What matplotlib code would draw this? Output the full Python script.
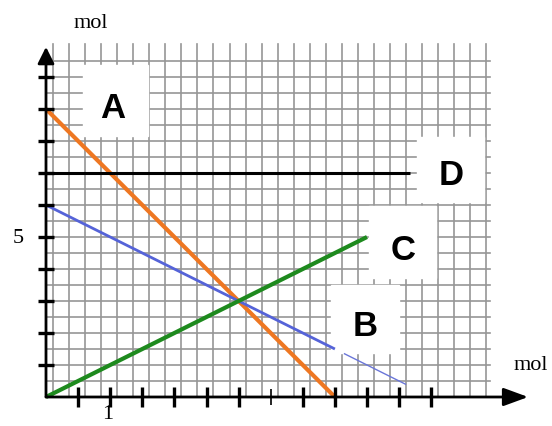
import numpy as np
import matplotlib.pyplot as plt

# curves (mol vs mol)
a_x = [0, 4.5]
a_y = [9, 0]
b_x = [0, 4.5]
b_y = [6, 1.5]
b_tail_x = [4.65, 5.6]
b_tail_y = [1.35, 0.4]
c_x = [0, 5]
c_y = [0, 5]
d_x = [0, 5.67]
d_y = [7, 7]

x_ticks = np.array([0.5, 1, 1.5, 2, 2.5, 3, 4, 4.5, 5, 5.5, 6])
x_thin_ticks = np.array([3.5])
y_ticks = np.arange(1, 11)
curve_names = ["A", "B", "C", "D"]

fig = plt.figure(figsize=(5.52, 4.27), dpi=100)
ax = fig.add_axes([0, 0, 1, 1])
ax.set_xlim(-46 / 64.2, 506 / 64.2)
ax.set_ylim(-29 / 32, 398 / 32)
ax.axis("off")

# squared paper
grid_col = "#969696"
for gx in 0.109 + 0.25 * np.arange(28):
    ax.plot([gx, gx], [0, 11.03], color=grid_col, lw=1.2, zorder=1)
for gy in 0.5 * np.arange(1, 22):
    ax.plot([0, 6.92], [gy, gy], color=grid_col, lw=1.2, zorder=1)

# white patches behind the letters
boxes = [(0.576, 8.156, 1.013, 2.219),
         (4.439, 1.375, 1.059, 2.125),
         (5.031, 3.719, 1.044, 2.25),
         (5.779, 6.094, 1.043, 2.031)]
for bx, by, bw, bh in boxes:
    ax.add_patch(plt.Rectangle((bx, by), bw, bh, color="white", zorder=2))

# axes with arrows
ax.annotate("", xy=(7.51, 0), xytext=(0, 0),
            arrowprops=dict(arrowstyle="-|>,head_length=1.5,head_width=0.55",
                            lw=2, color="black", shrinkA=0, shrinkB=0), zorder=5)
ax.annotate("", xy=(0, 10.94), xytext=(0, 0),
            arrowprops=dict(arrowstyle="-|>,head_length=1.0,head_width=0.5",
                            lw=2, color="black", shrinkA=0, shrinkB=0), zorder=5)
ax.plot(x_ticks, np.zeros_like(x_ticks), ls="", marker="|", ms=14, mew=2.4,
        color="black", zorder=5)
ax.plot(x_thin_ticks, np.zeros_like(x_thin_ticks), ls="", marker="|", ms=12, mew=1.2,
        color="black", zorder=5)
ax.plot(np.zeros_like(y_ticks), y_ticks, ls="", marker="_", ms=11.5, mew=2.4,
        color="black", zorder=5)

# the four lines
ax.plot(a_x, a_y, color="#ee7722", lw=3, zorder=4, solid_capstyle="butt")
ax.plot(b_x, b_y, color="#5563d8", lw=2, zorder=4, solid_capstyle="butt")
ax.plot(b_tail_x, b_tail_y, color="#6a76d8", lw=1, zorder=4)
ax.plot(c_x, c_y, color="#1e8a1e", lw=3, zorder=4, solid_capstyle="butt")
ax.plot(d_x, d_y, color="black", lw=2.2, zorder=4, solid_capstyle="butt")

# letters
letter_pos = [(1.044, 8.75), (4.977, 1.9375), (5.569, 4.3125), (6.316, 6.656)]
for name, (lx, ly) in zip(curve_names, letter_pos):
    ax.text(lx, ly, name, fontsize=25, fontweight="bold", family="Liberation Sans",
            ha="center", va="baseline", zorder=6)

serif = "Liberation Serif"
ax.text(0.70, 11.69, "mol", fontsize=16, family=serif, ha="center", va="center")
ax.text(7.555, 1.03, "mol", fontsize=16, family=serif, ha="center", va="center")
ax.text(-0.436, 4.97, "5", fontsize=16, family=serif, ha="center", va="center")
ax.text(0.966, -0.21, "1", fontsize=16, family=serif, ha="center", va="top")

fig.savefig("out.png", dpi=100)
